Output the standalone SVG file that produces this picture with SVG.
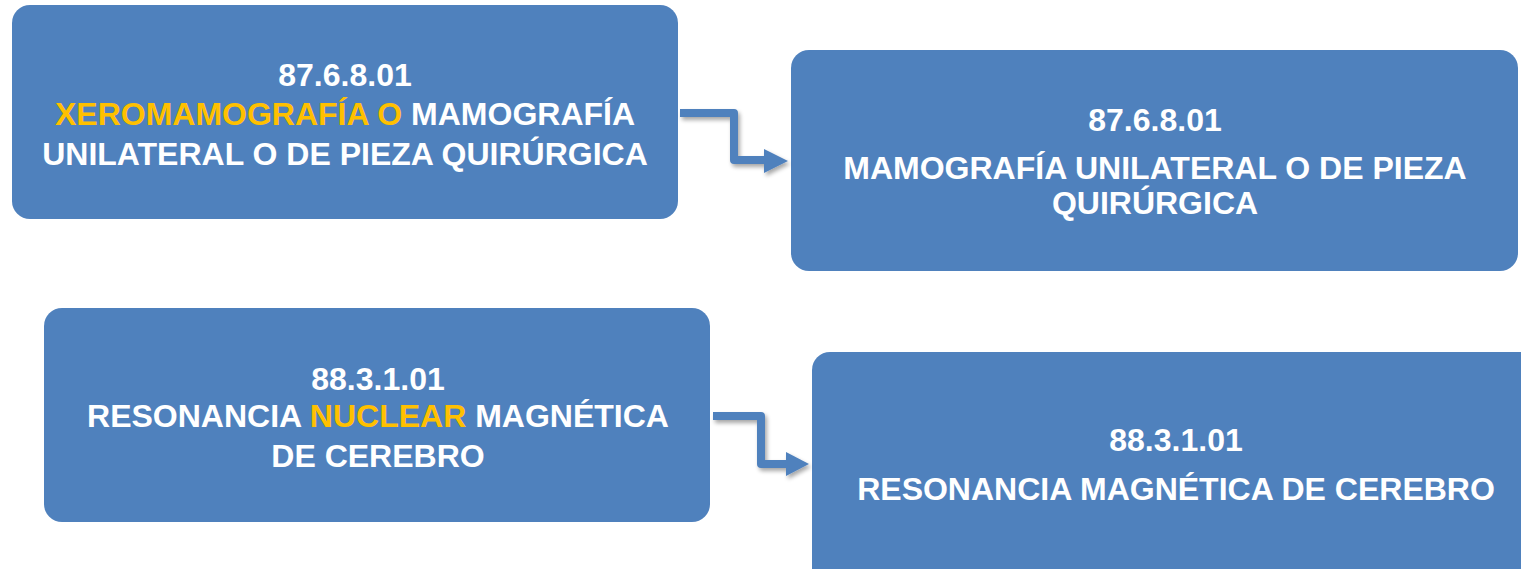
<svg xmlns="http://www.w3.org/2000/svg" width="1521" height="569" viewBox="0 0 1521 569">
<defs>
<style>
.box{fill:#4F81BD;}
.t{font-family:"Liberation Sans",Arial,sans-serif;font-weight:bold;font-size:32px;fill:#FFFFFF;text-anchor:middle;}
.o{fill:#FFC000;}
.c{fill:none;stroke:#4F81BD;stroke-width:8;stroke-linejoin:round;}
.h{fill:#4F81BD;}
</style>
<filter id="sh" x="-20%" y="-20%" width="140%" height="140%">
<feGaussianBlur in="SourceAlpha" stdDeviation="2"/>
<feOffset dx="2" dy="3" result="b"/>
<feComponentTransfer><feFuncA type="linear" slope="0.35"/></feComponentTransfer>
<feMerge><feMergeNode/><feMergeNode in="SourceGraphic"/></feMerge>
</filter>
</defs>
<g id="node1">
<rect class="box" x="12" y="5" width="666" height="214" rx="18"/>
<text class="t" x="345" y="86">87.6.8.01</text>
<text class="t" x="345" y="125"><tspan class="o">XEROMAMOGRAFÍA O</tspan> MAMOGRAFÍA</text>
<text class="t" x="345" y="165">UNILATERAL O DE PIEZA QUIRÚRGICA</text>
</g>
<g id="node2">
<rect class="box" x="791" y="50" width="727" height="221" rx="18"/>
<text class="t" x="1155" y="131">87.6.8.01</text>
<text class="t" x="1155" y="179">MAMOGRAFÍA UNILATERAL O DE PIEZA</text>
<text class="t" x="1155" y="214">QUIRÚRGICA</text>
</g>
<g id="node3">
<rect class="box" x="44" y="308" width="666" height="214" rx="18"/>
<text class="t" x="378" y="390">88.3.1.01</text>
<text class="t" x="378" y="427">RESONANCIA <tspan class="o">NUCLEAR</tspan> MAGNÉTICA</text>
<text class="t" x="378" y="467">DE CEREBRO</text>
</g>
<g id="node4">
<rect class="box" x="812" y="352" width="740" height="240" rx="18"/>
<text class="t" x="1176" y="451">88.3.1.01</text>
<text class="t" x="1176" y="500">RESONANCIA MAGNÉTICA DE CEREBRO</text>
</g>
<g id="connectors" filter="url(#sh)">
<path class="c" d="M680 113 H734 V160 H766"/>
<polygon class="h" points="764,149 788,161 764,173"/>
<path class="c" d="M713 416 H761 V464 H788"/>
<polygon class="h" points="786,452 809,464 786,476"/>
</g>
</svg>
